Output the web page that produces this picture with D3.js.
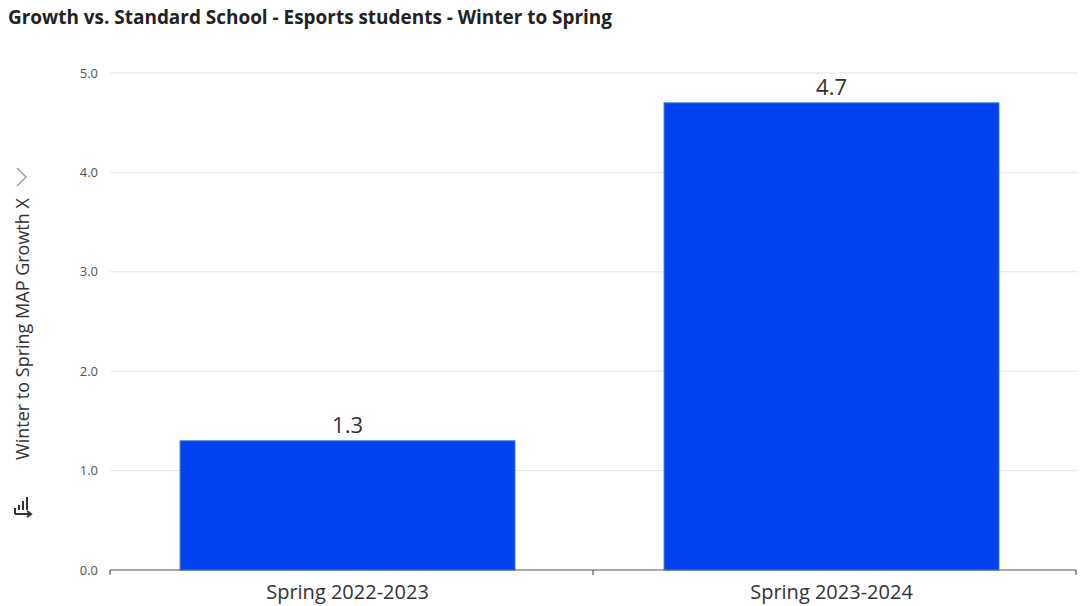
<!DOCTYPE html>
<html>
<head>
<meta charset="utf-8">
<script src="https://cdn.jsdelivr.net/npm/d3@7"></script>
<style>
  html, body { margin: 0; padding: 0; background: #fff; }
  svg { display: block; font-family: "Open Sans", "Noto Sans", sans-serif; }
</style>
</head>
<body>
<svg id="chart" width="1083" height="606"></svg>
<script>
// Chart data
const categories = ["Spring 2022-2023", "Spring 2023-2024"];
const growthValues = [1.3, 4.7];
const yTickValues = [0, 1, 2, 3, 4, 5];
const chartTitle = "Growth vs. Standard School - Esports students - Winter to Spring";
const yAxisTitle = "Winter to Spring MAP Growth X";

const svg = d3.select("#chart");
const margin = { top: 73, right: 5, bottom: 36, left: 110 };
const W = 1083, H = 606;
const innerW = W - margin.left - margin.right;
const innerH = H - margin.top - margin.bottom;

// Title
svg.append("text")
  .attr("x", 8).attr("y", 24)
  .attr("font-size", 19).attr("font-weight", 700)
  .attr("fill", "#222")
  .attr("textLength", 604).attr("lengthAdjust", "spacingAndGlyphs")
  .text(chartTitle);

const g = svg.append("g").attr("transform", `translate(${margin.left},${margin.top})`);

const x = d3.scaleBand().domain(categories).range([0, innerW])
  .paddingInner(0.308).paddingOuter(0.154).align(0.47);
const y = d3.scaleLinear().domain([0, 5]).range([innerH, 0]);

// Horizontal gridlines
g.append("g").selectAll("line").data(yTickValues.filter(d => d > 0)).join("line")
  .attr("x1", 0).attr("x2", innerW)
  .attr("y1", d => y(d)).attr("y2", d => y(d))
  .attr("stroke", "#e6e6e6").attr("stroke-width", 1);

// Y tick labels
g.append("g").selectAll("text").data(yTickValues).join("text")
  .attr("x", -12).attr("y", d => y(d)).attr("dy", "0.35em")
  .attr("text-anchor", "end")
  .attr("font-size", 13).attr("fill", "#555")
  .text(d => d3.format(".1f")(d));

// Bars
g.append("g").selectAll("rect").data(categories).join("rect")
  .attr("x", d => x(d))
  .attr("y", (d, i) => y(growthValues[i]))
  .attr("width", x.bandwidth())
  .attr("height", (d, i) => innerH - y(growthValues[i]))
  .attr("fill", "#0042f0")
  .attr("stroke", "#3f7fd6").attr("stroke-width", 1);

// Value labels
g.append("g").selectAll("text").data(categories).join("text")
  .attr("x", d => x(d) + x.bandwidth() / 2)
  .attr("y", (d, i) => y(growthValues[i]) - 8)
  .attr("text-anchor", "middle")
  .attr("font-size", 22).attr("fill", "#333")
  .text((d, i) => d3.format(".1f")(growthValues[i]));

// X axis
const xAxis = g.append("g").attr("transform", `translate(0,${innerH})`);
xAxis.append("line").attr("x1", 0).attr("x2", innerW - 2).attr("y1", 0).attr("y2", 0)
  .attr("stroke", "#555").attr("stroke-width", 1.2);
const boundaries = [0, (innerW - 2) / 2, innerW - 2];
xAxis.selectAll("line.tick").data(boundaries).join("line").attr("class", "tick")
  .attr("x1", d => d).attr("x2", d => d).attr("y1", 0).attr("y2", 5)
  .attr("stroke", "#555").attr("stroke-width", 1.2);
xAxis.selectAll("text").data(categories).join("text")
  .attr("x", d => x(d) + x.bandwidth() / 2)
  .attr("y", 29)
  .attr("text-anchor", "middle")
  .attr("font-size", 20).attr("fill", "#333")
  .text(d => d);

// Y axis title with chevron and sort icon
const yTitle = svg.append("g").attr("transform", "translate(29,329) rotate(-90)");
yTitle.append("text")
  .attr("text-anchor", "middle")
  .attr("font-size", 18).attr("fill", "#333")
  .text(yAxisTitle);
svg.append("path")
  .attr("d", "M17,168 L26,177 L17,186")
  .attr("fill", "none").attr("stroke", "#999").attr("stroke-width", 1.4);
// sort icon: ascending bars with an arrow underneath
const icon = svg.append("g").attr("transform", "translate(14,496)").attr("stroke", "#333").attr("stroke-width", 2).attr("fill", "none");
icon.append("line").attr("x1", 1).attr("x2", 1).attr("y1", 12).attr("y2", 18);
icon.append("line").attr("x1", 5).attr("x2", 5).attr("y1", 9).attr("y2", 14);
icon.append("line").attr("x1", 9).attr("x2", 9).attr("y1", 5).attr("y2", 14);
icon.append("line").attr("x1", 13).attr("x2", 13).attr("y1", 1).attr("y2", 14);
icon.append("line").attr("x1", 1).attr("x2", 17).attr("y1", 18).attr("y2", 18);
icon.append("path").attr("d", "M13,15 L17,18 L13,21");
</script>
</body>
</html>
